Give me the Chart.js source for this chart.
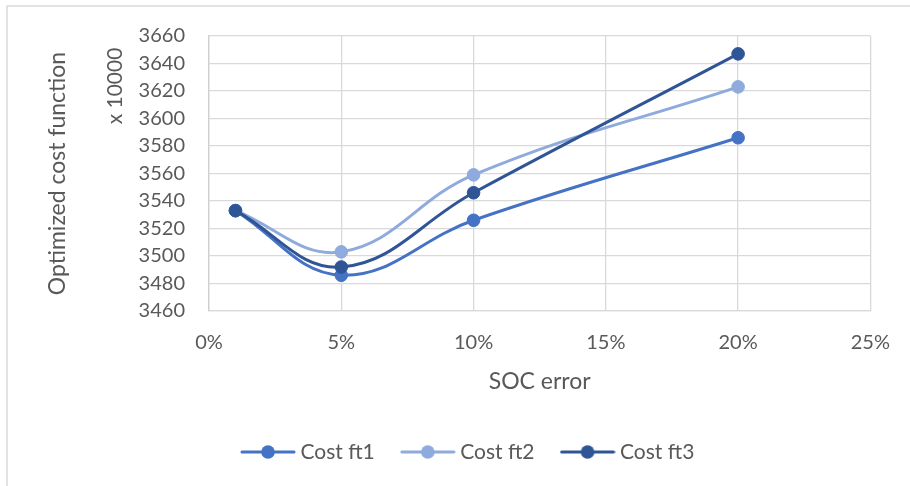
<!DOCTYPE html>
<html>
<head>
<meta charset="utf-8">
<script src="https://cdn.jsdelivr.net/npm/chart.js@4.4.0/dist/chart.umd.min.js"></script>
<style>
html,body{margin:0;padding:0;background:#fff;}
#costChart{display:block;width:910px;height:486px;}
</style>
</head>
<body>
<canvas id="costChart" width="910" height="486"></canvas>
<script>
// values
const socError = [0.01, 0.05, 0.10, 0.20];
const costFt1 = [3533, 3486, 3526, 3586];
const costFt2 = [3533, 3503, 3559, 3623];
const costFt3 = [3533, 3492, 3546, 3647];
const seriesNames = ["Cost ft1", "Cost ft2", "Cost ft3"];
const seriesColors = ["#4472C4", "#8FAADC", "#2F5597"];
const xTitle = "SOC error";
const yTitle = "Optimized cost function";
const unitLabel = "x 10000";

const TXT = "#595959";
const GRID = "#d9d9d9";
const FONT = "Lato";

/* legend mark: short line with a dot */
function legendMark(color){
  const c = document.createElement("canvas");
  c.width = 56; c.height = 16;
  const g = c.getContext("2d");
  g.strokeStyle = color; g.lineWidth = 3; g.lineCap = "round";
  g.beginPath(); g.moveTo(2,8); g.lineTo(54,8); g.stroke();
  g.fillStyle = color;
  g.beginPath(); g.arc(28,8,6.8,0,Math.PI*2); g.fill();
  return c;
}
const marks = seriesColors.map(legendMark);

const allSeries = [costFt1, costFt2, costFt3];
const datasets = allSeries.map((vals,i)=>({
  label: seriesNames[i],
  data: vals.map((v,j)=>({x: socError[j], y: v})),
  borderColor: seriesColors[i],
  backgroundColor: seriesColors[i],
  borderWidth: 3,
  pointRadius: 6.3,
  pointBorderWidth: 1,
  pointBackgroundColor: seriesColors[i],
  pointBorderColor: seriesColors[i],
  tension: 0.4,
  order: 2 - i
}));

/* frame, unit label, legend placement */
const extras = {
  id: "extras",
  beforeDraw(chart){
    const ctx = chart.ctx;
    ctx.save();
    ctx.fillStyle = "#fff";
    ctx.fillRect(0,0,chart.width,chart.height);
    ctx.strokeStyle = GRID; ctx.lineWidth = 1.5;
    ctx.beginPath();
    ctx.moveTo(910,6); ctx.lineTo(7,6); ctx.lineTo(7,486);
    ctx.stroke();
    ctx.restore();
  },
  afterUpdate(chart){
    const lg = chart.legend;
    if(!lg || !lg.legendHitBoxes.length) return;
    const hb = lg.legendHitBoxes[0];
    const dx = 246 - hb.left;
    const dy = 441.5 - hb.top;
    lg.left += dx; lg.right += dx;
    lg.top += dy; lg.bottom += dy;
  },
  afterDraw(chart){
    const ctx = chart.ctx;
    ctx.save();
    ctx.fillStyle = TXT;
    ctx.font = "21px " + FONT;
    ctx.textAlign = "center";
    ctx.textBaseline = "middle";
    ctx.translate(115, 86);
    ctx.rotate(-Math.PI/2);
    ctx.fillText(unitLabel, 0, 0);
    ctx.restore();
  }
};

new Chart(document.getElementById("costChart"), {
  type: "line",
  data: {datasets},
  options: {
    responsive: false,
    animation: false,
    layout: {padding: {left: 0, right: 38, top: 35, bottom: 0}},
    plugins: {
      tooltip: {enabled: false},
      legend: {
        position: "bottom",
        labels: {
          usePointStyle: true,
          pointStyleWidth: 44,
          padding: 31,
          color: TXT,
          font: {family: FONT, size: 21},
          generateLabels: ch => ch.data.datasets.map((ds,i)=>({
            text: ds.label,
            fillStyle: ds.borderColor,
            strokeStyle: ds.borderColor,
            fontColor: TXT,
            lineWidth: 0,
            pointStyle: marks[i],
            hidden: false,
            datasetIndex: i
          }))
        }
      }
    },
    scales: {
      x: {
        type: "linear",
        min: 0, max: 0.25,
        afterFit: s => { s.height = 113; },
        grid: {color: GRID, lineWidth: 1.3, drawTicks: false},
        border: {color: GRID, width: 1.3},
        ticks: {
          stepSize: 0.05,
          padding: 20,
          color: TXT,
          font: {family: FONT, size: 20},
          callback: v => Math.round(v*100) + "%"
        },
        title: {
          display: true, text: xTitle, color: TXT,
          font: {family: FONT, size: 23},
          padding: {top: 0, bottom: 29}
        }
      },
      y: {
        min: 3460, max: 3660,
        afterFit: s => { s.width = 209; },
        grid: {color: GRID, lineWidth: 1.3, drawTicks: false},
        border: {color: "#cfcfcf", width: 1.3},
        ticks: {
          stepSize: 20,
          padding: 24,
          color: TXT,
          font: {family: FONT, size: 20},
          callback: v => String(v)
        },
        title: {
          display: true, text: yTitle, color: TXT,
          font: {family: FONT, size: 23},
          padding: {top: 44, bottom: 0}
        }
      }
    }
  },
  plugins: [extras]
});
</script>
</body>
</html>
